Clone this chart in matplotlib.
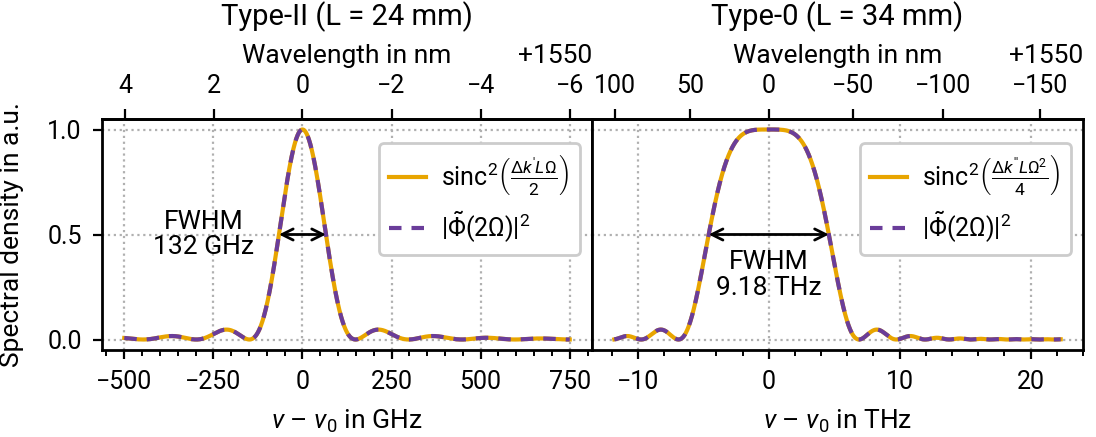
import numpy as np
import matplotlib
matplotlib.use("Agg")
import matplotlib.pyplot as plt
from matplotlib.ticker import MultipleLocator

plt.rcParams["font.family"] = ["Roboto", "DejaVu Sans"]
plt.rcParams["mathtext.fontset"] = "custom"
plt.rcParams["mathtext.rm"] = "Roboto"
plt.rcParams["mathtext.it"] = "Roboto:italic"
plt.rcParams["mathtext.bf"] = "Roboto:bold"
plt.rcParams["font.size"] = 9

# --- physical constants / centre wavelength ---
C_LIGHT = 299792458.0          # m/s
LAMBDA0_NM = 1550.0
NU0 = C_LIGHT / (LAMBDA0_NM * 1e-9)   # Hz

# --- Type-II (L = 24 mm): linear phase mismatch, axis in GHz ---
type2_title = "Type-II (L = 24 mm)"
type2_fwhm_ghz = 132.0
type2_range_ghz = [-500.0, 750.0]
type2_xticks = [-500, -250, 0, 250, 500, 750]
type2_wl_ticks = [4, 2, 0, -2, -4, -6]

# --- Type-0 (L = 34 mm): quadratic phase mismatch, axis in THz ---
type0_title = "Type-0 (L = 34 mm)"
type0_fwhm_thz = 9.18
type0_range_thz = [-11.8, 22.3]
type0_xticks = [-10, 0, 10, 20]
type0_wl_ticks = [100, 50, 0, -50, -100, -150]

yticks = [0.0, 0.5, 1.0]

C_ORANGE = "#E8A500"
C_PURPLE = "#6A3D9A"
GRID_KW = dict(color="#b0b0b0", linestyle=":", linewidth=0.8)

# sinc^2(x) = 1/2 at x = X_HALF
X_HALF = 1.3915573782515103


def sinc2(x):
    return np.sinc(x / np.pi) ** 2


def make_converters(scale):
    """Frequency offset (in units of `scale` Hz) <-> wavelength offset from 1550 nm."""
    def nu_to_lam(dnu):
        dnu = np.asarray(dnu, dtype=float)
        return C_LIGHT / (NU0 + dnu * scale) * 1e9 - LAMBDA0_NM

    def lam_to_nu(dlam):
        dlam = np.asarray(dlam, dtype=float)
        return (C_LIGHT / ((dlam + LAMBDA0_NM) * 1e-9) - NU0) / scale
    return nu_to_lam, lam_to_nu


W, H = 1096, 437
fig = plt.figure(figsize=(W / 200, H / 200), dpi=200)
bottom_px, top_px = 350, 119
axL = fig.add_axes([102 / W, 1 - bottom_px / H, 490 / W, (bottom_px - top_px) / H])
axR = fig.add_axes([592 / W, 1 - bottom_px / H, 491 / W, (bottom_px - top_px) / H],
                   sharey=axL)

# spectra
nu2 = np.linspace(*type2_range_ghz, 2000)
a2 = X_HALF / (type2_fwhm_ghz / 2)
s2 = sinc2(a2 * nu2)

nu0 = np.linspace(*type0_range_thz, 2000)
b0 = X_HALF / (type0_fwhm_thz / 2) ** 2
s0 = sinc2(b0 * nu0 ** 2)

lw = 1.5
dash = (3.0, 2.4)
axL.plot(nu2, s2, color=C_ORANGE, lw=lw,
         label=r"sinc$^2\left(\frac{\Delta k' L\Omega}{2}\right)$")
axL.plot(nu2, s2, color=C_PURPLE, lw=lw, dashes=dash,
         label=r"$|\tilde{\Phi}(2\Omega)|^2$")
axR.plot(nu0, s0, color=C_ORANGE, lw=lw,
         label=r"sinc$^2\left(\frac{\Delta k'' L\Omega^2}{4}\right)$")
axR.plot(nu0, s0, color=C_PURPLE, lw=lw, dashes=dash,
         label=r"$|\tilde{\Phi}(2\Omega)|^2$")

# FWHM markers
arrow_kw = dict(arrowstyle="<->", color="black", lw=1.0,
                shrinkA=0, shrinkB=0, mutation_scale=10)
axL.annotate("", xy=(type2_fwhm_ghz / 2, 0.5), xytext=(-type2_fwhm_ghz / 2, 0.5),
             arrowprops=arrow_kw)
axL.text(-278, 0.5, f"FWHM\n{type2_fwhm_ghz:.0f} GHz", ha="center", va="center",
         fontsize=9.5, linespacing=1.1)
axR.annotate("", xy=(type0_fwhm_thz / 2, 0.5), xytext=(-type0_fwhm_thz / 2, 0.5),
             arrowprops=arrow_kw)
axR.text(0, 0.425, f"FWHM\n{type0_fwhm_thz:.2f} THz", ha="center", va="top",
         fontsize=9.5, linespacing=1.1)

for ax, xt, minor, unit in ((axL, type2_xticks, 50, "GHz"),
                            (axR, type0_xticks, 2, "THz")):
    ax.set_xticks(xt)
    ax.xaxis.set_minor_locator(MultipleLocator(minor))
    ax.grid(True, which="major", **GRID_KW)
    ax.set_xlabel(r"$\nu$ – $\nu_0$ in " + unit, fontsize=9.5, labelpad=5)
    ax.tick_params(axis="both", which="major", length=3.3, width=0.8,
                   labelsize=9, pad=4)
    ax.tick_params(axis="x", which="minor", length=2, width=0.7)
    for sp in ax.spines.values():
        sp.set_linewidth(1.0)
    ax.margins(x=0.05)

axL.set_ylim(-0.05, 1.05)
axL.set_yticks(yticks)
axL.set_ylabel("Spectral density in a.u.", fontsize=9.5)
axL.yaxis.set_label_coords(-0.16, 0.5)
axR.tick_params(axis="y", left=False, labelleft=False)

# wavelength axes on top, offset from 1550 nm
for ax, scale, wl_ticks, title in ((axL, 1e9, type2_wl_ticks, type2_title),
                                   (axR, 1e12, type0_wl_ticks, type0_title)):
    sec = ax.secondary_xaxis("top", functions=make_converters(scale))
    sec.set_xticks(wl_ticks)
    sec.tick_params(length=3.5, width=0.8, labelsize=9, pad=4)
    sec.set_xlabel("Wavelength in nm", fontsize=9.5, labelpad=4)
    sec.spines["top"].set_linewidth(1.0)
    ax.text(1.0, 1 + (bottom_px - 63) / (bottom_px - top_px) - 1, f"+{LAMBDA0_NM:.0f}",
            transform=ax.transAxes, ha="right", va="baseline", fontsize=9.5)
    ax.set_title(title, y=1.405, pad=0, fontsize=10.5, va="baseline")

leg_kw = dict(loc="upper right", bbox_to_anchor=(1.0, 0.95), fontsize=9,
              handlelength=1.5, handletextpad=0.6, framealpha=1.0,
              edgecolor="#cccccc", borderaxespad=0.5)
axL.legend(**leg_kw)
axR.legend(**leg_kw)

fig.savefig("out.png", dpi=200)
